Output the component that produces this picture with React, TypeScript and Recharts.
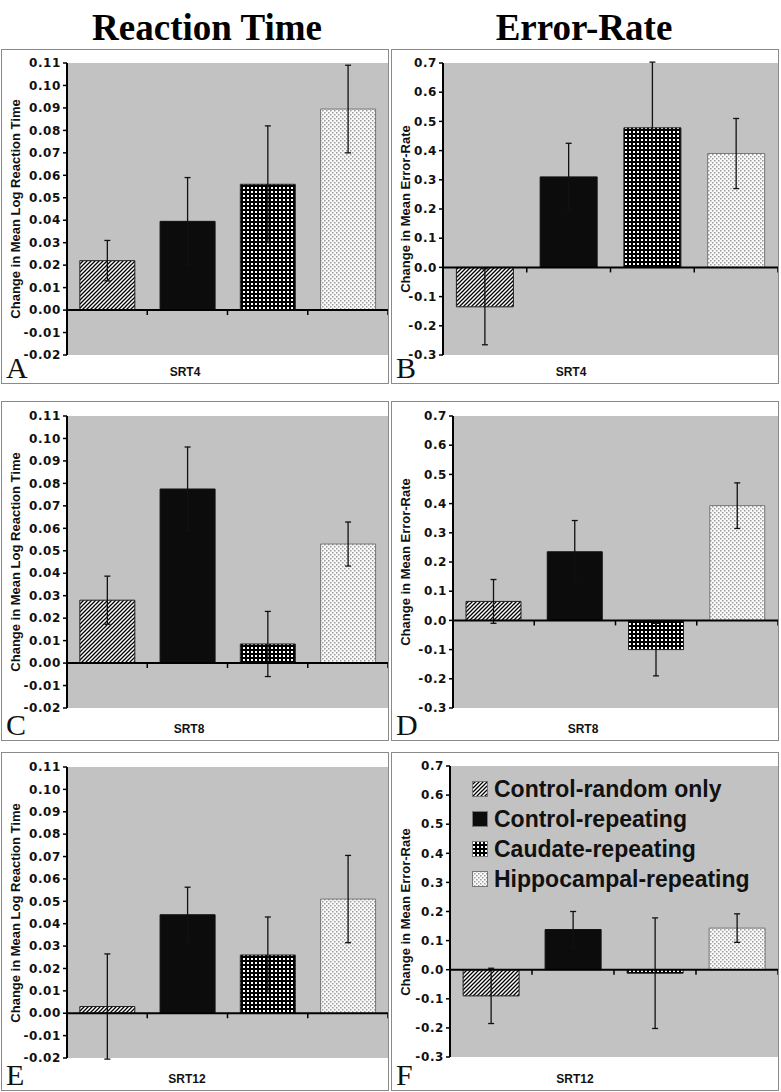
import React from "react";
import { BarChart, Bar, Cell, ErrorBar, XAxis, YAxis, CartesianGrid, ReferenceLine, Legend } from "recharts";

const groups = ["Control-random only", "Control-repeating", "Caudate-repeating", "Hippocampal-repeating"];

// reaction time (change in mean log RT)
const rtSrt4 = [0.022, 0.0395, 0.056, 0.0895];
const rtSrt4Err = [0.009, 0.0195, 0.026, 0.0195];
const rtSrt8 = [0.028, 0.0775, 0.0085, 0.053];
const rtSrt8Err = [0.0107, 0.0187, 0.0145, 0.0098];
const rtSrt12 = [0.003, 0.044, 0.026, 0.051];
const rtSrt12Err = [0.0235, 0.0123, 0.017, 0.0195];

// error rate
const erSrt4 = [-0.135, 0.31, 0.478, 0.39];
const erSrt4Err = [0.13, 0.115, 0.225, 0.12];
const erSrt8 = [0.065, 0.235, -0.1, 0.393];
const erSrt8Err = [0.075, 0.107, 0.09, 0.078];
const erSrt12 = [-0.09, 0.138, -0.012, 0.143];
const erSrt12Err = [0.095, 0.062, 0.19, 0.049];

const rtTicks = [-0.02, -0.01, 0, 0.01, 0.02, 0.03, 0.04, 0.05, 0.06, 0.07, 0.08, 0.09, 0.1, 0.11];
const erTicks = [-0.3, -0.2, -0.1, 0, 0.1, 0.2, 0.3, 0.4, 0.5, 0.6, 0.7];

const SANS = "'Liberation Sans', Arial, sans-serif";
const SERIF = "'Liberation Serif', 'Times New Roman', serif";
const patternKeys = ["hatch", "solid", "check", "dots"];
const barStroke = ["#222", "#111", "#222", "#777"];

function Patterns({ id }: { id: string }) {
  return (
    <defs>
      <pattern id={`${id}-hatch`} patternUnits="userSpaceOnUse" width="4" height="4">
        <rect width="4" height="4" fill="#fff" />
        <path d="M-1,1 l2,-2 M0,4 l4,-4 M3,5 l2,-2" stroke="#000" strokeWidth="1.3" />
      </pattern>
      <pattern id={`${id}-solid`} patternUnits="userSpaceOnUse" width="3" height="3">
        <rect width="3" height="3" fill="#0c0c0c" />
      </pattern>
      <pattern id={`${id}-check`} patternUnits="userSpaceOnUse" width="4" height="4">
        <rect width="4" height="4" fill="#000" />
        <rect x="1" y="1" width="2" height="2" fill="#fff" />
      </pattern>
      <pattern id={`${id}-dots`} patternUnits="userSpaceOnUse" width="4" height="4">
        <rect width="4" height="4" fill="#fafafa" />
        <rect x="0" y="0" width="1.5" height="1.5" fill="#9a9a9a" />
        <rect x="2" y="2" width="1.5" height="1.5" fill="#9a9a9a" />
      </pattern>
    </defs>
  );
}

// zero line with Excel-style tick marks between the categories
const zeroAxis = (n: number) => (p: any) => {
  const { x1, x2, y1 } = p;
  const step = (x2 - x1) / n;
  return (
    <g>
      <line x1={x1} x2={x2} y1={y1} y2={y1} stroke="#000" strokeWidth={2} />
      {groups.map((_, i) => (
        <line key={i} x1={x1 + step * (i + 1)} x2={x1 + step * (i + 1)} y1={y1} y2={y1 + 5} stroke="#000" strokeWidth={1.5} />
      ))}
    </g>
  );
};

function LegendBox({ id }: { id: string }) {
  return (
    <div style={{ fontFamily: SANS, fontWeight: 700, fontSize: 23, color: "#111" }}>
      {groups.map((g, i) => (
        <div key={g} style={{ display: "flex", alignItems: "center", height: 30 }}>
          <svg width={16} height={16} style={{ marginRight: 6 }}>
            <rect x={0.5} y={0.5} width={15} height={15} fill={`url(#${id}-${patternKeys[i]})`} stroke="#777" />
          </svg>
          <span>{g}</span>
        </div>
      ))}
    </div>
  );
}

type PanelProps = {
  id: string;
  values: number[];
  errs: number[];
  ticks: number[];
  digits: number;
  yLabel: string;
  xLabel: string;
  left: number;
  top: number;
  height: number;
  plotLeft: number;
  plotTop: number;
  plotBottom: number;
  xLabelX: number;
  legend?: boolean;
};

function Panel(p: PanelProps) {
  const width = 388;
  const data = groups.map((name, i) => ({ name, value: p.values[i], err: p.errs[i] }));
  const innerW = width - 2;
  const innerH = p.height - 2;
  const plotMid = p.plotTop + (innerH - p.plotTop - p.plotBottom) / 2;
  return (
    <div
      style={{
        position: "absolute",
        left: p.left,
        top: p.top,
        width,
        height: p.height,
        border: "1px solid #8a8a8a",
        boxSizing: "border-box",
        background: "#fff",
      }}
    >
      <BarChart
        width={innerW}
        height={innerH}
        data={data}
        margin={{ top: p.plotTop, right: 0, bottom: p.plotBottom, left: 0 }}
        barCategoryGap="16%"
      >
        <Patterns id={p.id} />
        <CartesianGrid horizontal={false} vertical={false} fill="#c2c2c2" stroke="none" />
        <XAxis dataKey="name" hide />
        <YAxis
          width={p.plotLeft}
          domain={[p.ticks[0], p.ticks[p.ticks.length - 1]]}
          ticks={p.ticks}
          interval={0}
          allowDataOverflow
          tickFormatter={(v: number) => v.toFixed(p.digits)}
          axisLine={{ stroke: "#000", strokeWidth: 2 }}
          tickLine={{ stroke: "#000", strokeWidth: 1.5 }}
          tickSize={4}
          tickMargin={2}
          tick={{ fill: "#111", fontSize: 12, fontWeight: 700, fontFamily: "'DejaVu Sans', sans-serif", style: { letterSpacing: "0.6px" } }}
        />
        <Bar dataKey="value" isAnimationActive={false}>
          {data.map((d, i) => (
            <Cell key={d.name} fill={`url(#${p.id}-${patternKeys[i]})`} stroke={barStroke[i]} strokeWidth={1} />
          ))}
          <ErrorBar dataKey="err" direction="y" width={3} stroke="#111" strokeWidth={1.3} isAnimationActive={false} />
        </Bar>
        <ReferenceLine y={0} shape={zeroAxis(groups.length)} ifOverflow="visible" />
        {p.legend && (
          <Legend
            layout="vertical"
            align="center"
            verticalAlign="middle"
            content={() => <LegendBox id={p.id} />}
            wrapperStyle={{ left: 80, top: 21, width: 300 }}
          />
        )}
      </BarChart>
      <div
        style={{
          position: "absolute",
          left: 14 - 160,
          top: plotMid - 8,
          width: 320,
          height: 16,
          lineHeight: "16px",
          textAlign: "center",
          transform: "rotate(-90deg)",
          fontFamily: SANS,
          fontWeight: 700,
          fontSize: 13,
          color: "#111",
          whiteSpace: "nowrap",
        }}
      >
        {p.yLabel}
      </div>
      <div
        style={{
          position: "absolute",
          left: p.xLabelX - 50,
          top: innerH - 18,
          width: 100,
          textAlign: "center",
          fontFamily: SANS,
          fontWeight: 700,
          fontSize: 12,
          color: "#111",
        }}
      >
        {p.xLabel}
      </div>
      <div
        style={{
          position: "absolute",
          left: 4,
          top: innerH - 30,
          height: 30,
          fontFamily: SERIF,
          fontSize: 30,
          lineHeight: "30px",
          color: "#111",
        }}
      >
        {p.id}
      </div>
    </div>
  );
}

const titleStyle: React.CSSProperties = {
  position: "absolute",
  top: 6,
  fontFamily: SERIF,
  fontWeight: 700,
  fontSize: 37,
  lineHeight: "44px",
  width: 300,
  textAlign: "center",
  color: "#000",
};

export default function App() {
  return (
    <div style={{ position: "absolute", left: 0, top: 0, width: 781, height: 1092, background: "#fff", overflow: "hidden" }}>
      <div style={{ ...titleStyle, left: 207 - 150 }}>Reaction Time</div>
      <div style={{ ...titleStyle, left: 584 - 150 }}>Error-Rate</div>

      <Panel id="A" values={rtSrt4} errs={rtSrt4Err} ticks={rtTicks} digits={2}
        yLabel="Change in Mean Log Reaction Time" xLabel="SRT4"
        left={1} top={49} height={335} plotLeft={65} plotTop={13} plotBottom={28} xLabelX={183} />
      <Panel id="B" values={erSrt4} errs={erSrt4Err} ticks={erTicks} digits={1}
        yLabel="Change in Mean Error-Rate" xLabel="SRT4"
        left={391} top={49} height={335} plotLeft={51} plotTop={13} plotBottom={28} xLabelX={179} />
      <Panel id="C" values={rtSrt8} errs={rtSrt8Err} ticks={rtTicks} digits={2}
        yLabel="Change in Mean Log Reaction Time" xLabel="SRT8"
        left={1} top={401} height={340} plotLeft={65} plotTop={14} plotBottom={32} xLabelX={187} />
      <Panel id="D" values={erSrt8} errs={erSrt8Err} ticks={erTicks} digits={1}
        yLabel="Change in Mean Error-Rate" xLabel="SRT8"
        left={391} top={401} height={340} plotLeft={61} plotTop={14} plotBottom={32} xLabelX={191} />
      <Panel id="E" values={rtSrt12} errs={rtSrt12Err} ticks={rtTicks} digits={2}
        yLabel="Change in Mean Log Reaction Time" xLabel="SRT12"
        left={1} top={752} height={339} plotLeft={65} plotTop={14} plotBottom={32} xLabelX={185} />
      <Panel id="F" values={erSrt12} errs={erSrt12Err} ticks={erTicks} digits={1}
        yLabel="Change in Mean Error-Rate" xLabel="SRT12"
        left={391} top={752} height={339} plotLeft={58} plotTop={13} plotBottom={33} xLabelX={183} legend />
    </div>
  );
}
